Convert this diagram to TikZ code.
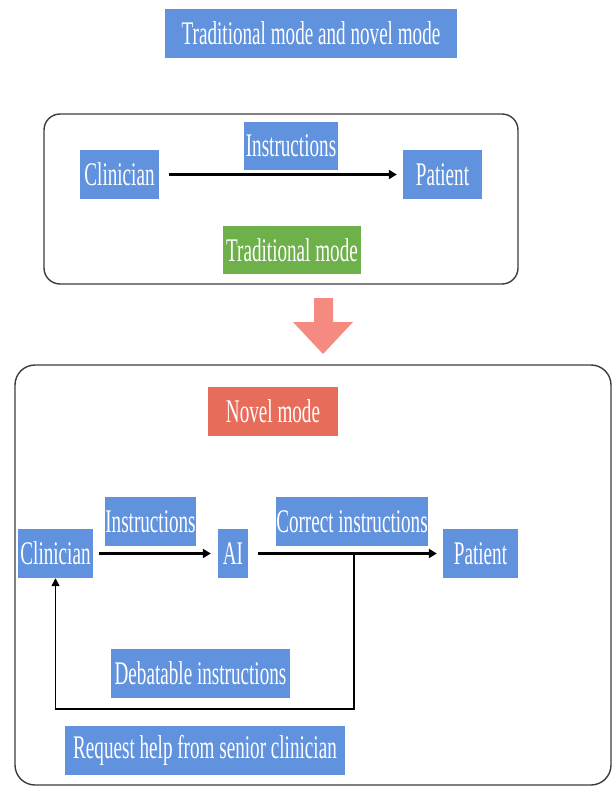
\documentclass[tikz,border=0pt]{standalone}
\usepackage{fontspec}
\setmainfont{Liberation Serif}[FakeStretch=0.58]
\usepackage{tikz}
\usepackage{xcolor}
\usetikzlibrary{arrows.meta, positioning}
\definecolor{boxblue}{RGB}{96,146,222}
\definecolor{boxgreen}{RGB}{110,176,74}
\definecolor{boxred}{RGB}{232,108,90}
\definecolor{arrowpink}{RGB}{245,138,128}
\definecolor{framegray}{RGB}{60,60,60}
\tikzstyle{bluebox} = [rectangle, 
fill=boxblue, 
text=white, 
minimum height=49pt, 
inner sep=0pt, 
text centered, 
font=\fontsize{33}{35}\selectfont]
\tikzstyle{greenbox} = [bluebox, fill=boxgreen]
\tikzstyle{redbox} = [bluebox, fill=boxred]
\tikzstyle{frame} = [draw=framegray, line width=1.4pt, rounded corners=16pt]
\tikzstyle{arrow} = [line width=2.4pt, -{Triangle[length=8pt,width=9pt]}]
\tikzstyle{backline} = [line width=1.6pt, -{Triangle[length=8pt,width=8pt]}]

\begin{document}
\begin{tikzpicture}[x=1pt, y=-1pt]
        \useasboundingbox (0,0) rectangle (613,786);

        % --- Titulo ---
        \node (title) [bluebox, minimum width=292pt] at (311,33.5) {Traditional mode and novel mode};

        % --- Modo tradicional ---
        \draw [frame] (44,114) rectangle (518,284);
        \node (clin1) [bluebox, minimum width=79pt] at (119.5,174.5) {Clinician};
        \node (instr1) [bluebox, minimum width=94pt, minimum height=48pt] at (291,146) {Instructions};
        \node (pat1) [bluebox, minimum width=79pt] at (442.5,174.5) {Patient};
        \node (trad) [greenbox, minimum width=138pt, minimum height=48pt] at (292,250) {Traditional mode};

        \draw [arrow] ([xshift=10pt]clin1.east) -- ([xshift=-6pt]pat1.west);

        % --- Flecha hacia abajo ---
        \fill [arrowpink] (314,298) -- (333,298) -- (333,322) -- (353,322) -- (323,354)
              -- (293,322) -- (314,322) -- cycle;

        % --- Modo nuevo ---
        \draw [frame, rounded corners=20pt] (15,365) rectangle (611,785);
        \node (novel) [redbox, minimum width=130pt] at (273,411.5) {Novel mode};
        \node (clin2) [bluebox, minimum width=75pt] at (55.5,553.5) {Clinician};
        \node (instr2) [bluebox, minimum width=87pt] at (150.5,521.5) {Instructions};
        \node (ai) [bluebox, minimum width=30pt] at (233,553.5) {AI};
        \node (corr) [bluebox, minimum width=136pt] at (352,521.5) {Correct instructions};
        \node (pat2) [bluebox, minimum width=75pt] at (480.5,553.5) {Patient};
        \node (debat) [bluebox, minimum width=179pt] at (200.5,673.5) {Debatable instructions};
        \node (req) [bluebox, minimum width=280pt] at (205,750.5) {Request help from senior clinician};

        \draw [arrow] ([xshift=6pt]clin2.east) -- ([xshift=-7pt]ai.west);
        \draw [arrow] ([xshift=10pt]ai.east) -- ([xshift=-6pt]pat2.west);

        % Retorno al clinico
        \coordinate (split) at (354,553.5);
        \draw [backline] (split) -- ++(0,155.5) -| (clin2.south);

    \end{tikzpicture}
\end{document}
